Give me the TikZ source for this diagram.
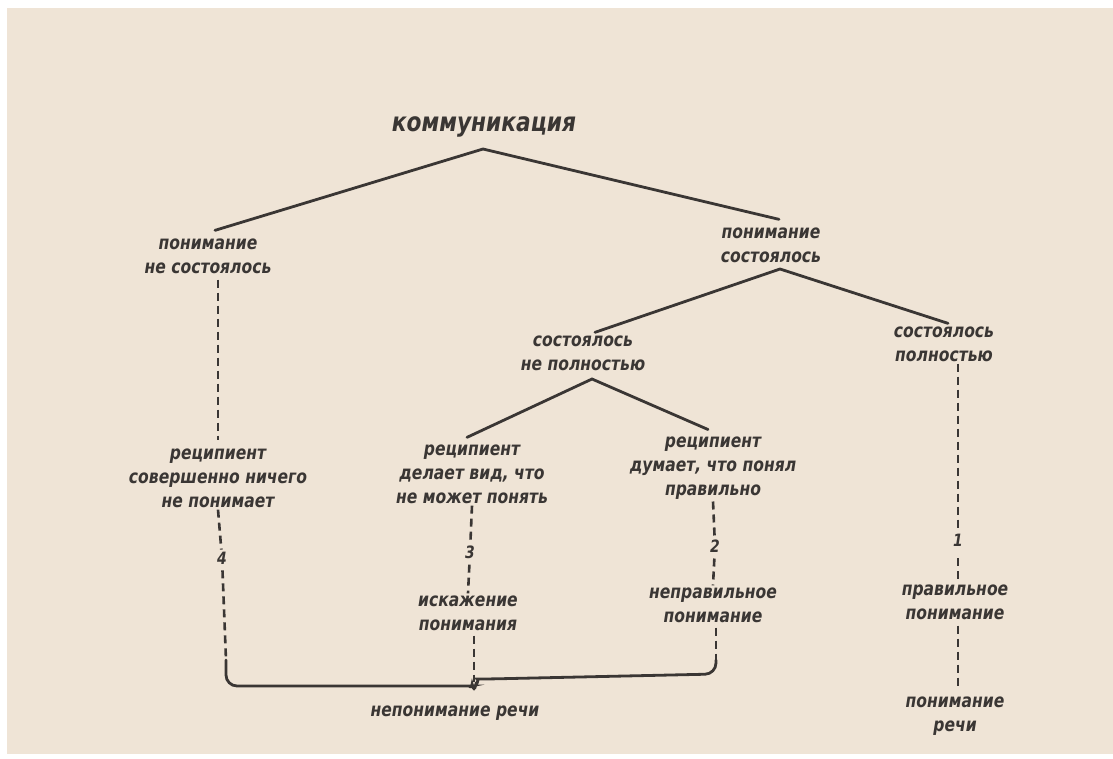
\documentclass[tikz,border=0pt]{standalone}
\usepackage{fontspec}
\setmainfont{DejaVu Sans}
\newfontfamily\lab{DejaVu Sans Bold Oblique}[FakeStretch=0.82]
\definecolor{paper}{RGB}{239,228,214}
\definecolor{ink}{RGB}{58,54,52}
\begin{document}
\begin{tikzpicture}[x=1pt,y=-1pt,
  lbl/.style={text=ink, align=center, inner sep=2pt, font=\lab\fontsize{19}{24}\selectfont},
  ttl/.style={text=ink, inner sep=3pt, font=\lab\fontsize{26.5}{28}\selectfont},
  num/.style={text=ink, inner sep=2pt, font=\lab\fontsize{17}{18}\selectfont},
  solidln/.style={draw=ink, line width=2.8pt, line cap=round},
  dashln/.style={draw=ink, line width=2.6pt, dash pattern=on 8pt off 5pt},
]
\useasboundingbox (0,0) rectangle (1113,758);
\fill[white] (0,0) rectangle (1113,758);
\fill[paper] (7,8) rectangle (1113,754);

% nodes
\node[ttl] (top) at (484,127) {коммуникация};
\node[lbl] (l1) at (208,256) {понимание\\не состоялось};
\node[lbl] (r1) at (771,245) {понимание\\состоялось};
\node[lbl] (r1a) at (583,353) {состоялось\\не полностью};
\node[lbl] (r1b) at (944,344) {состоялось\\полностью};
\node[lbl] (l2) at (218,478) {реципиент\\совершенно ничего\\не понимает};
\node[lbl] (m2) at (472,474) {реципиент\\делает вид, что\\не может понять};
\node[lbl] (m3) at (713,468) {реципиент\\думает, что понял\\правильно};
\node[lbl] (m2b) at (468,613) {искажение\\понимания};
\node[lbl] (m3b) at (713,605) {неправильное\\понимание};
\node[lbl] (r2) at (955,602) {правильное\\понимание};
\node[lbl] (r3) at (955,716) {понимание\\речи};
\node[lbl] (bl) at (455,713) {непонимание речи};

\node[num] (d4) at (222,558) {4};
\node[num] (d3) at (470,552) {3};
\node[num] (d2) at (715,546) {2};
\node[num] (d1) at (958,540) {1};

% brace coordinates
\coordinate (bL) at (226,660);
\coordinate (bT) at (474,695);
\coordinate (bTop) at (474,682);
\coordinate (bR) at (716,660);
\coordinate (bTL) at (460,686);
\coordinate (bTR) at (488,679);
\coordinate (bRc) at (716,674);

% tree lines
\coordinate (a0) at (483,149);
\coordinate (a1) at (780,269);
\coordinate (a2) at (592,379);
\draw[solidln] ([xshift=7pt,yshift=6pt]l1.north) -- (a0) -- ([xshift=8pt,yshift=6pt]r1.north);
\draw[solidln] ([xshift=12pt,yshift=1pt]r1a.north) -- (a1) -- ([xshift=4pt,yshift=1pt]r1b.north);
\draw[solidln] ([xshift=-5pt,yshift=5pt]m2.north) -- (a2) -- ([xshift=-5pt,yshift=5pt]m3.north);

% dashed lines
\draw[dashln, shorten <=4pt, shorten >=6pt] (l1.south -| l2.north) -- (l2.north);
\draw[dashln, shorten <=4pt] (l2.south) -- (d4) -- (bL);
\draw[dashln, shorten <=4pt] (m2.south) -- (d3) -- (m2b.north);
\draw[dashln, shorten <=4pt] (m3.south) -- (d2) -- (m3b.north);
\draw[dashln, shorten <=10pt] (r1b.south -| d1) -- (d1) -- (r2.north -| d1);
\draw[dashln, shorten <=4pt, shorten >=4pt] (r2.south -| d1) -- (r3.north -| d1);
\draw[dashln, shorten <=3pt] (m2b.south -| bT) -- (bTop);
\draw[dashln, shorten <=3pt] (m3b.south -| bR) -- (bR);

% brace
\draw[solidln, rounded corners=11pt] (bL) |- (bTL) to[out=0,in=100] (bT) to[out=80,in=180] (bTR) -- (bRc) -- (bR);
\end{tikzpicture}
\end{document}
